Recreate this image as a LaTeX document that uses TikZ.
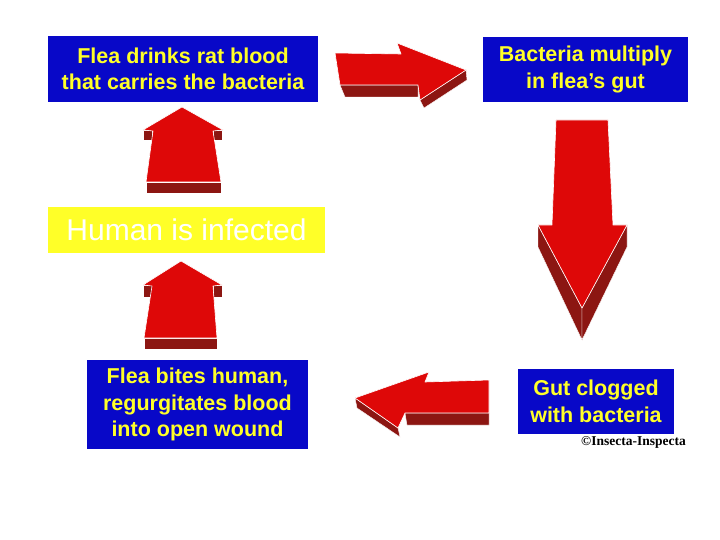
\documentclass[tikz,border=0pt]{standalone}
\usepackage{fontspec}
\setmainfont{Liberation Sans}
\newfontfamily\credfont{Liberation Serif}
\usetikzlibrary{positioning}

\definecolor{boxblue}{RGB}{8,8,200}
\definecolor{flyellow}{RGB}{255,255,40}
\definecolor{arrowred}{RGB}{222,8,8}
\definecolor{shadered}{RGB}{140,22,18}

\begin{document}
\begin{tikzpicture}[
        x=1pt, y=-1pt,
        stage/.style={rectangle, fill=boxblue, inner sep=0pt, align=center, text=flyellow, font=\fontsize{21.5}{26.5}\selectfont\bfseries},
        infected/.style={rectangle, fill=flyellow, inner sep=0pt, text=white, font=\fontsize{30}{32}\selectfont},
        face/.style={fill=arrowred, draw=white, line width=0.6pt, line join=round},
        side/.style={fill=shadered, draw=white, line width=0.4pt}
    ]
        \useasboundingbox[fill=white] (0,0) rectangle (720,540);

        % --- NODES ---
        \node[stage, minimum width=270, minimum height=66] (drinks) at (183,69) {Flea drinks rat blood\\that carries the bacteria};
        \node[stage, minimum width=205, minimum height=65] (multiply) at (585.5,69.5) {Bacteria multiply\\in flea's gut};
        \node[stage, minimum width=156, minimum height=65] (clogged) at (596,401.5) {Gut clogged\\with bacteria};
        \node[stage, minimum width=221, minimum height=89] (bites) at (197.5,404.5) {Flea bites human,\\regurgitates blood\\into open wound};
        \node[infected, minimum width=277, minimum height=46] (human) at (186.5,230) {Human is infected};
        \node[font=\credfont\fontsize{13.5}{14}\selectfont\bfseries, anchor=north east, inner sep=0pt] (credit) at (686,436) {\textcopyright Insecta-Inspecta};

        % --- ARROWS ---
        % drinks to multiply
        \fill[side] (340,85) -- (418,85) -- (418,97) -- (345,97) -- cycle;
        \fill[side] (420,100) -- (466,70) -- (467,80) -- (424,108) -- cycle;
        \draw[face] (335,53) -- (401,54) -- (397,43) -- (466,70) -- (420,100) -- (418,85) -- (340,85) -- cycle;

        % multiply to clogged
        \fill[side] (538,225) -- (582,308) -- (582,340) -- (538,247) -- cycle;
        \fill[side] (627,225) -- (582,308) -- (582,340) -- (627,247) -- cycle;
        \draw[face] (556,120) -- (608,120) -- (613,225) -- (627,225) -- (582,308) -- (538,225) -- (552,225) -- cycle;

        % clogged to bites
        \fill[side] (405,413) -- (489,413) -- (489,425) -- (407,425) -- cycle;
        \fill[side] (355,398) -- (398,428) -- (400,437) -- (357,408) -- cycle;
        \draw[face] (355,398) -- (429,372) -- (425,382) -- (489,380) -- (489,413) -- (405,413) -- (398,428) -- cycle;

        % bites to human
        \fill[side] (144,338) rectangle (217,349);
        \fill[side] (143,285) rectangle (152,297);
        \fill[side] (213,285) rectangle (222,297);
        \draw[face] (181,261) -- (222,285) -- (213,286) -- (217,338) -- (144,338) -- (152,286) -- (143,285) -- cycle;

        % human to drinks
        \fill[side] (146,182) rectangle (221,193);
        \fill[side] (143,130) rectangle (152,140);
        \fill[side] (213,130) rectangle (222,140);
        \draw[face] (182,107) -- (223,130) -- (213,131) -- (221,182) -- (146,182) -- (153,131) -- (143,130) -- cycle;

    \end{tikzpicture}
\end{document}
